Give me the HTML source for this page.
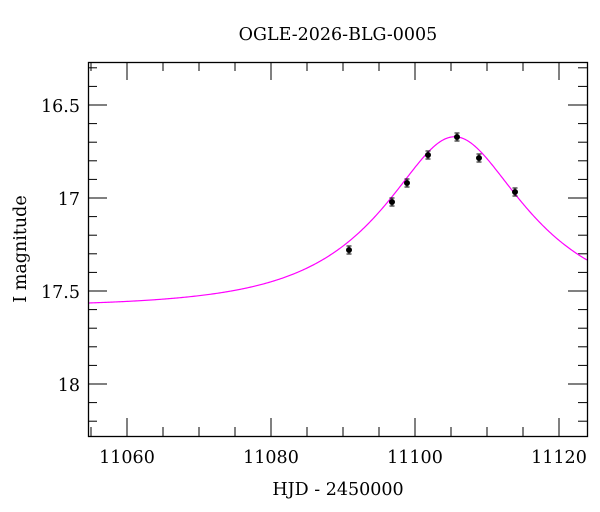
<!DOCTYPE html>
<html><head><meta charset="utf-8"><style>
html,body{margin:0;padding:0;background:#fff;}
svg{display:block;font-family:"DejaVu Serif","Liberation Serif",serif;}
</style></head><body>
<svg id="s" width="600" height="512" xmlns="http://www.w3.org/2000/svg">
<rect width="600" height="512" fill="#fff"/>
<text x="338" y="40" text-anchor="middle" font-size="17.5">OGLE-2026-BLG-0005</text>
<text x="338" y="495" text-anchor="middle" font-size="17.5">HJD - 2450000</text>
<text transform="translate(26,249) rotate(-90)" text-anchor="middle" font-size="17.5">I magnitude</text>
<g id="ticks" stroke="#000" stroke-width="1"></g>
<g font-size="17.5" text-anchor="end">
<text x="80" y="112">16.5</text>
<text x="80" y="205">17</text>
<text x="80" y="298">17.5</text>
<text x="80" y="391">18</text>
</g>
<g font-size="17.5" text-anchor="middle">
<text x="127" y="463">11060</text>
<text x="271" y="463">11080</text>
<text x="415" y="463">11100</text>
<text x="559" y="463">11120</text>
</g>
<path id="curve" fill="none" stroke="#ff00ff" stroke-width="1.2"/>
<g id="pts"></g>
<rect x="88.5" y="62.5" width="499" height="374" fill="none" stroke="#000" stroke-width="1.3"/>
</svg>
<script>
function X(t){return 127+(t-11060)*7.2;}
function Y(m){return 105+(m-16.5)*186;}
var g=document.getElementById("ticks"),h="";
for(var t=11055;t<=11123;t+=5){var x=X(t),L=(t%20==0)?18:9;
h+='<line x1="'+x+'" y1="436" x2="'+x+'" y2="'+(436-L)+'"/><line x1="'+x+'" y1="62" x2="'+x+'" y2="'+(62+L)+'"/>';}
for(var i=0;i<=20;i++){var m=16.3+i*0.1,y=Y(m);if(y<62||y>436)continue;var L=(Math.abs(m*2-Math.round(m*2))<1e-6)?19:9;
h+='<line x1="88" y1="'+y+'" x2="'+(88+L)+'" y2="'+y+'"/><line x1="587" y1="'+y+'" x2="'+(587-L)+'" y2="'+y+'"/>';}
g.innerHTML=h;
var d="",u0=0.465,tE=17.8,t0=11105.5,mb=17.585;
for(var x=88;x<=587;x+=1){var t=11060+(x-127)/7.2,tau=(t-t0)/tE,u=Math.sqrt(u0*u0+tau*tau),A=(u*u+2)/(u*Math.sqrt(u*u+4)),m=mb-2.5*Math.log10(A);
d+=(x==88?"M":"L")+x+","+Y(m).toFixed(2);}
document.getElementById("curve").setAttribute("d",d);
var P=[[349,250],[392,202],[407,183],[428,155],[457,137],[479,158],[515,192]],p="";
P.forEach(function(q){p+='<line x1="'+q[0]+'" y1="'+(q[1]-4)+'" x2="'+q[0]+'" y2="'+(q[1]+4)+'" stroke="#000"/><line x1="'+(q[0]-2.5)+'" y1="'+(q[1]-4)+'" x2="'+(q[0]+2.5)+'" y2="'+(q[1]-4)+'" stroke="#000"/><line x1="'+(q[0]-2.5)+'" y1="'+(q[1]+4)+'" x2="'+(q[0]+2.5)+'" y2="'+(q[1]+4)+'" stroke="#000"/><circle cx="'+q[0]+'" cy="'+q[1]+'" r="3" fill="#000"/>';});
document.getElementById("pts").innerHTML=p;
</script>
</body></html>
